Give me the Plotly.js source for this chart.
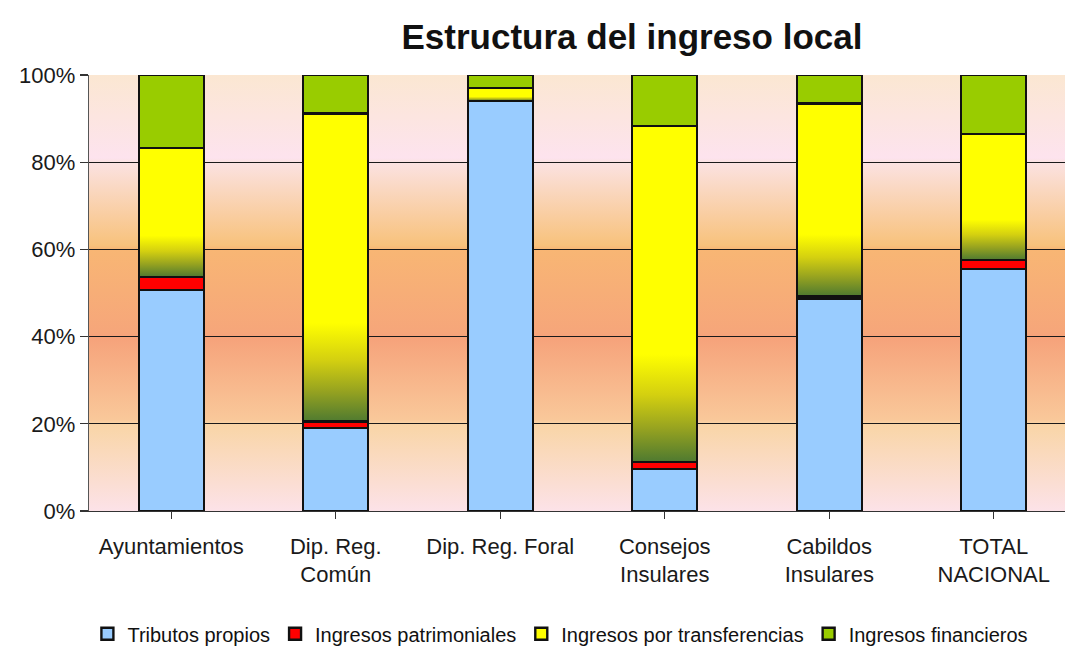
<!DOCTYPE html>
<html>
<head>
<meta charset="utf-8">
<script src="https://cdn.plot.ly/plotly-3.0.1.min.js"></script>
<style>
  html, body { margin: 0; padding: 0; background: #ffffff; }
  #chart { width: 1065px; height: 646px; }
</style>
</head>
<body>
<div id="chart"></div>
<script>
// ---- Data (shares of total) ----
const categories = ["Ayuntamientos", "Dip. Reg.<br>Común", "Dip. Reg. Foral", "Consejos<br>Insulares", "Cabildos<br>Insulares", "TOTAL<br>NACIONAL"];
const tributosPropios        = [0.507, 0.190, 0.940, 0.096, 0.487, 0.555];
const ingresosPatrimoniales  = [0.030, 0.015, 0.001, 0.017, 0.006, 0.021];
const ingresosTransferencias = [0.296, 0.707, 0.029, 0.770, 0.442, 0.289];
const ingresosFinancieros    = [0.167, 0.088, 0.030, 0.117, 0.065, 0.135];
const seriesNames = ["Tributos propios", "Ingresos patrimoniales", "Ingresos por transferencias", "Ingresos financieros"];
const yTickVals = [0, 0.2, 0.4, 0.6, 0.8, 1.0];

// ---- Styles ----
const seriesColors = ["#99ccff", "#ff0000", "#ffff00", "#99cc00"];
const seriesValues = [tributosPropios, ingresosPatrimoniales, ingresosTransferencias, ingresosFinancieros];
const idx = categories.map((_, i) => i);

const traces = seriesValues.map((vals, s) => ({
  type: "bar",
  name: seriesNames[s],
  x: idx,
  y: vals,
  marker: { color: seriesColors[s], line: { color: "#111111", width: 2.4 } },
  hoverinfo: "skip"
}));

const FONT = "'Liberation Sans', Arial, sans-serif";

const layout = {
  width: 1065,
  height: 646,
  margin: { l: 89, r: 0, t: 75, b: 135 },
  paper_bgcolor: "#ffffff",
  plot_bgcolor: "#f9cfa0",
  barmode: "stack",
  bargap: 0.605,
  showlegend: true,
  title: {
    text: "<b>Estructura del ingreso local</b>",
    font: { family: FONT, size: 35, color: "#111111" },
    x: 0.5934, xref: "container", xanchor: "center",
    y: 0.943, yref: "container", yanchor: "middle"
  },
  xaxis: {
    type: "linear",
    range: [-0.5, 5.433],
    tickmode: "array",
    tickvals: idx,
    ticktext: categories,
    tickson: "boundaries",
    ticks: "outside",
    ticklen: 7,
    tickwidth: 1.3,
    tickcolor: "#333333",
    ticklabelstandoff: 8,
    showgrid: false,
    zeroline: false,
    showline: true,
    linecolor: "#333333",
    linewidth: 1.3,
    tickfont: { family: FONT, size: 22, color: "#1a1a1a" },
    fixedrange: true
  },
  yaxis: {
    range: [0, 1],
    tickmode: "array",
    tickvals: yTickVals,
    tickformat: ".0%",
    ticks: "outside",
    ticklen: 8,
    tickwidth: 1.3,
    tickcolor: "#333333",
    showgrid: true,
    gridcolor: "#1a1a1a",
    gridwidth: 1.3,
    zeroline: false,
    showline: true,
    linecolor: "#555555",
    linewidth: 1.3,
    tickfont: { family: FONT, size: 22, color: "#1a1a1a" },
    fixedrange: true
  },
  legend: {
    orientation: "h",
    traceorder: "normal",
    x: 0.483, xanchor: "center",
    yref: "container",
    y: 0.019, yanchor: "middle",
    font: { family: FONT, size: 20, color: "#111111" },
    itemwidth: 30,
    bgcolor: "rgba(0,0,0,0)"
  }
};

function addGradients(gd) {
  const svg = gd.querySelector("svg.main-svg");
  if (!svg) return;
  const NS = "http://www.w3.org/2000/svg";
  let defs = svg.querySelector("defs");
  if (!defs) { defs = document.createElementNS(NS, "defs"); svg.insertBefore(defs, svg.firstChild); }
  function grad(id, stops) {
    const g = document.createElementNS(NS, "linearGradient");
    g.setAttribute("id", id);
    g.setAttribute("x1", "0"); g.setAttribute("y1", "0");
    g.setAttribute("x2", "0"); g.setAttribute("y2", "1");
    stops.forEach(([o, c]) => {
      const st = document.createElementNS(NS, "stop");
      st.setAttribute("offset", o);
      st.setAttribute("stop-color", c);
      g.appendChild(st);
    });
    defs.appendChild(g);
  }
  grad("bggrad", [
    [0.00, "#fbe7d2"], [0.19, "#fde3ee"],
    [0.20, "#fbe2e2"], [0.39, "#f8c27c"],
    [0.40, "#f8b674"], [0.59, "#f6a67a"],
    [0.60, "#f6a27a"], [0.79, "#f9c89a"],
    [0.80, "#f9d5a6"], [1.00, "#fce2e8"]
  ]);
  grad("ygrad", [
    [0.00, "#ffff00"], [0.68, "#ffff00"],
    [0.80, "#d4d010"], [0.90, "#97a320"], [1.00, "#4f7a30"]
  ]);
  const bg = gd.querySelector(".bglayer rect.bg");
  if (bg) bg.style.fill = "url(#bggrad)";
  const barTraces = gd.querySelectorAll(".barlayer .trace.bars");
  if (barTraces[2]) {
    barTraces[2].querySelectorAll("path").forEach(p => { p.style.fill = "url(#ygrad)"; });
  }
}

Plotly.newPlot("chart", traces, layout, { displayModeBar: false, staticPlot: true })
  .then(gd => addGradients(gd));
</script>
</body>
</html>
